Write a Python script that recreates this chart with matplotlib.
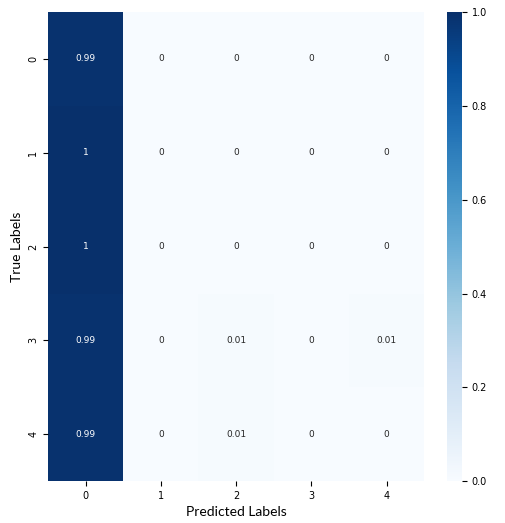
import matplotlib
matplotlib.use("Agg")
import matplotlib.pyplot as plt
import numpy as np
import seaborn as sns

labels = [0, 1, 2, 3, 4]
row0 = [0.99, 0, 0, 0, 0]
row1 = [1, 0, 0, 0, 0]
row2 = [1, 0, 0, 0, 0]
row3 = [0.99, 0, 0.01, 0, 0.01]
row4 = [0.99, 0, 0.01, 0, 0]
cm = np.array([row0, row1, row2, row3, row4])

fig = plt.figure(figsize=(5.05, 5.23), dpi=100)
ax = fig.add_axes([0.095, 0.08, 0.745, 0.897])
cax = fig.add_axes([0.885, 0.08, 0.03, 0.897])
sns.heatmap(cm, annot=True, fmt="g", cmap="Blues", vmin=0, vmax=1,
            xticklabels=labels, yticklabels=labels, ax=ax, cbar_ax=cax,
            annot_kws={"fontsize": 6.5})
ax.tick_params(labelsize=7)
cax.tick_params(labelsize=7)
ax.set_xlabel("Predicted Labels", fontsize=10, family="Lato")
ax.set_ylabel("True Labels", fontsize=10, family="Lato")
fig.savefig("out.png", dpi=100)
